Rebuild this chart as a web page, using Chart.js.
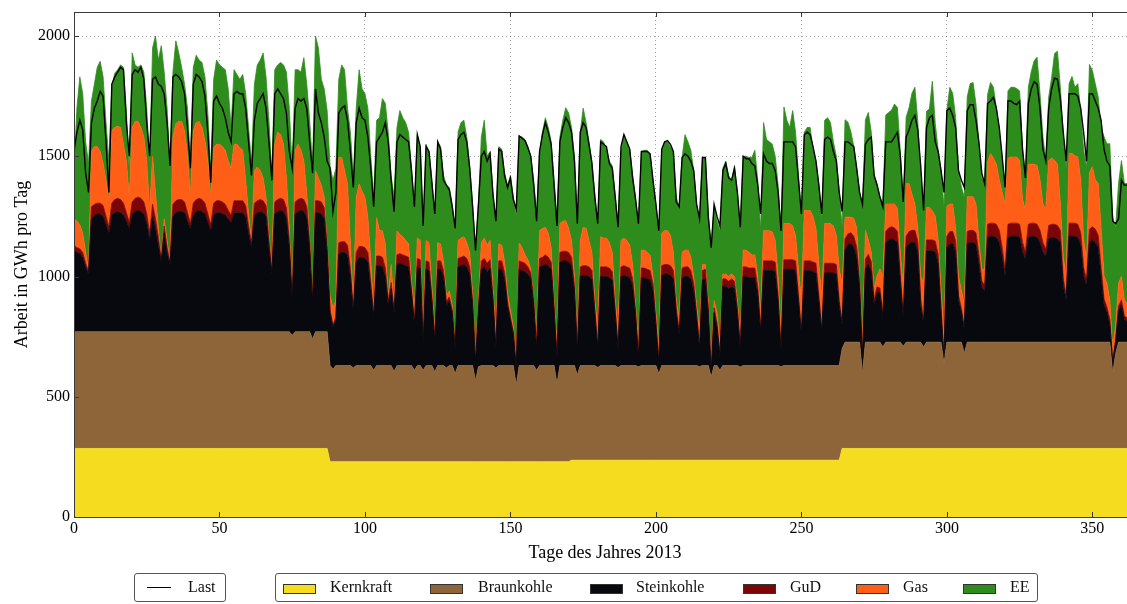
<!DOCTYPE html>
<html>
<head>
<meta charset="utf-8">
<title>Stromerzeugung und Last 2013</title>
<script src="https://cdn.jsdelivr.net/npm/chart.js@4/dist/chart.umd.min.js"></script>
<style>
  html, body { margin: 0; padding: 0; background: #fff; overflow: hidden; width: 1127px; height: 604px; }
  #wrap { position: relative; width: 1127px; height: 604px; overflow: hidden; }
  #c { position: absolute; left: 0; top: 0; }
  .box { position: absolute; top: 573px; height: 29px; border: 1px solid #555; border-radius: 3px; background: #fff; box-sizing: border-box; }
  .txt { position: absolute; top: 577px; font: 16px "Liberation Serif", serif; color: #111; line-height: 20px; white-space: nowrap; }
  .sw { position: absolute; top: 584px; width: 33px; height: 10px; border: 1px solid #333; box-sizing: border-box; }
  .ln { position: absolute; top: 587px; height: 0; border-top: 1.5px solid #000; }
</style>
</head>
<body>
<div id="wrap">
  <canvas id="c" width="1150" height="604"></canvas>
  <div class="box" style="left:134px;width:92px;"></div>
  <div class="ln" style="left:147px;width:24px;"></div>
  <div class="txt" style="left:188px;">Last</div>
  <div class="box" style="left:275px;width:763px;"></div>
  <div class="sw" style="left:283px;background:#f5dc1e;"></div>
  <div class="txt" style="left:330px;">Kernkraft</div>
  <div class="sw" style="left:430px;background:#8e6539;"></div>
  <div class="txt" style="left:478px;">Braunkohle</div>
  <div class="sw" style="left:590px;background:#08080f;"></div>
  <div class="txt" style="left:636px;">Steinkohle</div>
  <div class="sw" style="left:743px;background:#7d0505;"></div>
  <div class="txt" style="left:790px;">GuD</div>
  <div class="sw" style="left:856px;background:#ff5e17;"></div>
  <div class="txt" style="left:903px;">Gas</div>
  <div class="sw" style="left:963px;background:#2e8c1c;"></div>
  <div class="txt" style="left:1010px;">EE</div>
</div>
<script>
// Tägliche Arbeit in GWh je Erzeugungsart, Index = Tag des Jahres 2013 (0 = 1. Januar)
const kernkraft = [
  285,285,285,285,285,285,285,285,285,285,
  285,285,285,285,285,285,285,285,285,285,
  285,285,285,285,285,285,285,285,285,285,
  285,285,285,285,285,285,285,285,285,285,
  285,285,285,285,285,285,285,285,285,285,
  285,285,285,285,285,285,285,285,285,285,
  285,285,285,285,285,285,285,285,285,285,
  285,285,285,285,285,285,285,285,285,285,
  285,285,285,285,285,285,285,285,230,230,
  230,230,230,230,230,230,230,230,230,230,
  230,230,230,230,230,230,230,230,230,230,
  230,230,230,230,230,230,230,230,230,230,
  230,230,230,230,230,230,230,230,230,230,
  230,230,230,230,230,230,230,230,230,230,
  230,230,230,230,230,230,230,230,230,230,
  230,230,230,230,230,230,230,230,230,230,
  230,230,230,230,230,230,230,230,230,230,
  230,236,236,236,236,236,236,236,236,236,
  236,236,236,236,236,236,236,236,236,236,
  236,236,236,236,236,236,236,236,236,236,
  236,236,236,236,236,236,236,236,236,236,
  236,236,236,236,236,236,236,236,236,236,
  236,236,236,236,236,236,236,236,236,236,
  236,236,236,236,236,236,236,236,236,236,
  236,236,236,236,236,236,236,236,236,236,
  236,236,236,236,236,236,236,236,236,236,
  236,236,236,236,285,285,285,285,285,285,
  285,285,285,285,285,285,285,285,285,285,
  285,285,285,285,285,285,285,285,285,285,
  285,285,285,285,285,285,285,285,285,285,
  285,285,285,285,285,285,285,285,285,285,
  285,285,285,285,285,285,285,285,285,285,
  285,285,285,285,285,285,285,285,285,285,
  285,285,285,285,285,285,285,285,285,285,
  285,285,285,285,285,285,285,285,285,285,
  285,285,285,285,285,285,285,285,285,285,
  285,285,285,285,285
];
const braunkohle = [
  485,485,485,485,485,485,485,485,485,485,
  485,485,485,485,485,485,485,485,485,485,
  485,485,485,485,485,485,485,485,485,485,
  485,485,485,485,485,485,485,485,485,485,
  485,485,485,485,485,485,485,485,485,485,
  485,485,485,485,485,485,485,485,485,485,
  485,485,485,485,485,485,485,485,485,485,
  485,485,485,485,485,470,485,485,485,485,
  485,485,455,485,485,485,485,485,400,385,
  400,400,400,400,400,400,390,400,400,400,
  400,400,400,380,400,400,400,400,400,400,
  375,400,400,400,400,400,400,380,400,400,
  380,400,400,400,373,400,400,400,390,400,
  400,366,400,400,400,400,400,400,338,395,
  400,400,400,400,400,390,400,400,400,400,
  400,400,318,400,400,400,400,400,400,380,
  400,400,400,400,400,400,324,400,400,400,
  400,394,394,354,394,394,394,394,394,394,
  386,394,394,394,394,394,394,386,394,394,
  394,394,394,394,389,394,394,394,394,394,
  394,360,394,394,394,394,394,394,394,394,
  394,394,394,394,394,389,394,394,394,346,
  394,394,374,394,394,394,394,394,394,388,
  394,394,394,394,394,394,394,394,394,394,
  394,394,394,389,394,394,394,394,394,394,
  394,394,394,394,394,394,394,394,394,394,
  394,394,394,394,415,442,442,442,442,442,
  442,312,442,442,442,442,442,442,422,442,
  442,442,442,442,442,425,442,442,442,442,
  442,442,422,442,442,442,442,442,442,353,
  442,442,442,442,442,442,395,442,442,442,
  442,442,442,442,442,442,442,442,442,442,
  442,442,442,442,442,442,442,442,442,442,
  442,442,442,442,442,442,442,442,442,442,
  442,442,442,442,442,442,442,442,442,442,
  442,442,442,442,442,442,442,312,395,442,
  442,442,442,442,442
];
const steinkohle = [
  340,330,325,310,270,240,470,485,490,490,
  480,445,410,485,495,500,495,485,460,430,
  490,500,505,500,490,450,380,480,430,360,
  290,410,330,280,480,495,500,500,495,460,
  430,485,500,505,500,490,455,420,485,495,
  495,490,485,470,455,495,495,495,495,480,
  410,350,485,495,500,495,480,350,240,490,
  500,505,500,470,350,145,490,500,505,500,
  475,340,150,495,495,490,470,330,220,175,
  190,465,470,470,460,370,230,430,450,450,
  445,430,320,220,415,415,410,370,250,320,
  245,420,425,420,415,410,300,190,410,405,
  110,400,395,270,127,400,400,370,260,270,
  220,104,410,415,420,410,380,250,72,235,
  400,410,390,405,270,80,400,400,360,250,
  190,130,72,400,395,390,380,360,250,90,
  410,415,420,415,400,230,106,430,435,435,
  430,415,310,100,370,375,375,370,360,220,
  78,370,370,370,365,355,220,78,370,375,
  370,365,330,210,35,365,365,360,355,310,
  170,44,375,380,380,375,360,220,130,365,
  370,370,360,310,200,75,355,360,220,18,
  220,160,60,330,330,320,330,320,220,76,
  370,370,365,365,365,300,140,395,395,395,
  395,390,270,65,400,400,400,400,395,270,
  130,395,395,395,390,385,270,140,385,385,
  385,385,380,250,100,385,405,410,395,355,
  225,63,305,325,295,155,205,205,125,415,
  425,430,425,415,255,120,395,410,415,415,
  375,155,95,380,380,380,375,325,125,22,
  395,410,410,375,175,125,100,410,415,415,
  405,325,225,215,435,440,440,435,415,355,
  275,435,440,440,440,435,375,345,435,440,
  440,435,415,375,355,430,435,435,430,415,
  235,175,440,440,440,435,405,275,235,415,
  425,415,395,275,155,125,75,45,50,135,
  155,95,85,95,55
];
const gud = [
  20,20,20,20,15,10,50,45,45,45,
  45,35,25,50,55,55,55,50,35,25,
  50,55,55,55,50,40,30,50,40,30,
  10,30,20,8,50,50,50,50,45,35,
  20,50,50,50,50,45,35,25,50,50,
  50,50,45,35,30,50,50,50,50,45,
  30,15,50,50,50,50,45,30,10,50,
  50,50,50,45,30,8,50,50,50,50,
  45,30,8,50,50,50,45,25,10,8,
  10,45,45,45,40,30,10,40,45,45,
  45,40,25,10,40,40,40,35,20,25,
  10,40,40,40,40,40,15,10,35,35,
  10,35,35,15,10,35,35,25,15,15,
  10,8,35,35,35,35,30,15,8,10,
  35,35,35,35,15,8,35,35,25,15,
  10,10,5,35,35,35,30,25,15,8,
  35,35,40,35,30,15,8,40,40,40,
  40,35,20,8,40,40,40,40,35,15,
  8,40,40,40,40,35,15,8,40,40,
  40,40,30,15,5,40,40,40,40,30,
  15,5,40,40,40,40,35,15,10,40,
  40,40,35,30,15,8,40,40,20,5,
  20,15,5,30,30,30,30,30,20,8,
  40,40,40,40,40,25,8,40,40,40,
  40,40,20,8,40,40,40,40,40,20,
  8,40,40,40,40,40,20,8,40,40,
  40,40,40,20,10,45,45,45,45,40,
  25,8,40,40,40,20,25,20,10,45,
  50,50,50,45,25,10,45,50,50,50,
  45,25,10,45,45,45,45,40,20,5,
  45,50,50,45,20,15,10,50,50,50,
  50,40,30,20,55,55,55,55,50,40,
  25,55,55,55,55,55,40,30,55,55,
  55,55,50,40,30,55,55,55,55,50,
  30,20,55,55,55,55,50,35,25,55,
  55,55,50,35,25,20,20,5,8,15,
  20,15,15,15,10
];
const gas = [
  110,110,100,80,45,10,230,240,235,215,
  175,150,110,300,300,300,300,245,215,105,
  310,320,315,295,270,220,95,200,110,40,
  5,30,30,7,280,320,325,325,295,245,
  110,300,320,320,300,260,220,115,230,235,
  235,230,225,205,195,235,235,220,210,105,
  50,15,135,140,120,95,35,30,10,240,
  280,265,230,125,55,6,215,230,200,160,
  55,25,5,125,95,70,45,10,60,72,
  70,355,350,295,255,105,26,230,260,230,
  210,145,90,33,160,105,110,100,15,75,
  26,100,80,75,65,55,35,50,85,80,
  20,85,80,45,30,75,70,35,25,25,
  20,12,75,80,80,65,60,35,17,30,
  75,85,75,80,35,52,70,65,45,35,
  30,20,13,75,60,35,30,15,5,52,
  115,120,115,100,60,25,52,120,125,127,
  100,70,40,32,110,160,155,110,75,35,
  82,125,120,120,105,80,35,82,110,115,
  110,95,60,25,55,75,75,70,65,30,
  35,62,135,140,140,125,75,35,60,65,
  70,70,55,30,35,68,25,20,30,33,
  30,45,45,20,20,20,20,20,30,52,
  70,70,65,55,55,45,80,125,125,125,
  120,90,80,78,150,150,150,140,105,110,
  132,210,210,210,190,145,130,135,165,165,
  165,155,120,130,160,90,70,65,75,80,
  25,66,120,60,40,50,45,80,160,115,
  100,95,100,95,95,115,220,200,150,110,
  55,95,160,135,135,120,105,60,80,85,
  125,115,115,55,80,75,95,145,140,140,
  120,60,50,65,260,290,270,250,210,230,
  275,275,275,275,275,265,180,175,250,245,
  245,245,210,160,170,270,275,265,255,110,
  90,75,290,290,280,280,220,115,80,235,
  250,205,215,165,95,100,80,55,60,95,
  100,65,60,65,60
];
const ee = [
  210,470,615,580,460,440,210,260,330,375,
  360,240,165,180,225,235,260,320,210,100,
  310,235,225,260,270,220,185,450,650,700,
  885,610,550,385,270,345,285,225,195,190,
  150,265,280,255,270,265,200,110,285,350,
  330,330,335,300,170,310,290,285,315,360,
  360,320,360,425,460,520,500,470,390,310,
  280,300,330,440,495,526,335,310,325,430,
  455,485,550,560,540,440,450,555,540,530,
  550,325,385,420,315,465,524,370,475,425,
  430,455,435,457,405,470,550,585,685,370,
  444,430,515,495,490,465,470,430,430,380,
  450,400,380,440,480,420,405,360,460,430,
  420,471,450,480,485,440,360,370,443,400,
  440,490,370,370,400,470,405,400,370,450,
  560,540,612,445,460,480,470,470,500,500,
  320,400,455,440,440,500,520,360,420,470,
  480,470,500,490,450,495,440,410,380,440,
  428,405,400,370,340,360,440,428,370,420,
  410,400,370,450,498,410,415,425,420,400,
  450,470,340,370,370,370,420,430,455,395,
  480,450,445,440,420,456,445,445,350,483,
  390,380,470,440,470,420,390,460,450,445,
  390,390,395,405,435,400,332,450,380,370,
  365,350,380,415,485,430,400,480,430,390,
  346,325,345,345,280,280,330,318,430,440,
  420,350,330,320,235,405,395,355,300,250,
  350,554,460,530,500,470,385,300,300,370,
  380,390,415,420,420,345,275,315,420,485,
  445,410,305,400,410,540,385,375,490,538,
  400,485,460,460,440,430,445,415,470,475,
  415,400,380,360,280,295,295,235,205,130,
  50,280,290,290,285,290,205,140,320,385,
  430,450,360,280,200,265,335,445,470,485,
  500,455,290,320,285,305,290,375,385,450,
  400,400,360,420,580,580,650,545,405,415,
  480,485,500,480,450
];
// Tageslast in GWh
const last = [
  1520,1600,1650,1610,1430,1350,1640,1700,1730,1770,
  1750,1560,1350,1800,1830,1850,1870,1860,1640,1500,
  1840,1860,1850,1870,1820,1640,1500,1820,1830,1800,
  1790,1760,1640,1460,1830,1840,1830,1810,1760,1620,
  1450,1800,1840,1830,1810,1750,1600,1390,1730,1750,
  1720,1700,1660,1600,1560,1760,1770,1760,1760,1700,
  1560,1420,1650,1720,1740,1760,1700,1560,1400,1760,
  1780,1760,1740,1680,1520,1450,1700,1740,1730,1740,
  1700,1560,1430,1780,1680,1640,1580,1480,1450,1270,
  1350,1680,1700,1710,1650,1520,1370,1640,1700,1660,
  1650,1580,1450,1290,1560,1580,1600,1640,1560,1400,
  1270,1560,1590,1580,1570,1560,1440,1290,1590,1540,
  1210,1540,1520,1390,1260,1560,1530,1400,1380,1360,
  1290,1200,1570,1590,1600,1560,1450,1290,1108,1300,
  1500,1520,1480,1510,1340,1230,1530,1520,1420,1370,
  1410,1320,1280,1585,1575,1565,1535,1500,1380,1230,
  1520,1590,1640,1600,1550,1380,1210,1560,1620,1660,
  1640,1600,1480,1220,1600,1640,1620,1550,1470,1330,
  1220,1560,1550,1540,1470,1450,1330,1205,1540,1590,
  1560,1530,1410,1320,1220,1520,1520,1520,1510,1400,
  1300,1190,1530,1560,1565,1550,1520,1310,1290,1495,
  1510,1500,1480,1440,1300,1240,1495,1495,1250,1120,
  1300,1250,1210,1440,1470,1410,1400,1450,1350,1205,
  1500,1490,1490,1470,1460,1380,1260,1510,1480,1470,
  1470,1440,1350,1190,1560,1560,1560,1560,1540,1400,
  1260,1590,1600,1590,1540,1480,1380,1260,1570,1580,
  1570,1520,1480,1350,1270,1560,1560,1550,1540,1450,
  1350,1300,1550,1570,1580,1420,1380,1330,1290,1560,
  1560,1560,1580,1600,1500,1310,1580,1610,1650,1670,
  1610,1460,1275,1620,1660,1670,1560,1520,1440,1350,
  1690,1700,1670,1620,1440,1400,1370,1690,1715,1715,
  1650,1560,1430,1385,1720,1730,1745,1700,1620,1500,
  1370,1730,1730,1720,1715,1730,1530,1410,1720,1780,
  1810,1800,1700,1530,1480,1700,1780,1825,1820,1740,
  1600,1480,1760,1760,1760,1750,1700,1600,1480,1760,
  1760,1730,1700,1650,1530,1480,1460,1230,1220,1240,
  1400,1380,1380,1370,1280
];

const sourceNames = ['Kernkraft', 'Braunkohle', 'Steinkohle', 'GuD', 'Gas', 'EE'];
const sourceValues = [kernkraft, braunkohle, steinkohle, gud, gas, ee];
const sourceColors = ['#f5dc1e', '#8e6539', '#08080f', '#7d0505', '#ff5e17', '#2e8c1c'];
const xTicks = [0, 50, 100, 150, 200, 250, 300, 350];
const yTicks = [0, 500, 1000, 1500, 2000];

const toPoints = arr => arr.map((v, i) => ({ x: i, y: v }));

const datasets = sourceValues.map((arr, k) => ({
  label: sourceNames[k],
  data: toPoints(arr),
  backgroundColor: sourceColors[k],
  borderColor: sourceColors[k],
  borderWidth: 0.8,
  pointRadius: 0,
  tension: 0,
  fill: k === 0 ? 'origin' : '-1',
  stack: 'erzeugung',
  order: 1
}));
datasets.push({
  label: 'Last',
  data: toPoints(last),
  borderColor: '#000',
  backgroundColor: '#000',
  borderWidth: 1.4,
  pointRadius: 0,
  tension: 0,
  fill: false,
  stack: 'last',
  order: -1
});

// Achsenrahmen mit nach innen zeigenden Strichmarken
const framePlugin = {
  id: 'frame',
  afterDatasetsDraw(chart) {
    const { ctx, chartArea: a, scales: { x, y } } = chart;
    ctx.save();
    ctx.strokeStyle = '#3a3a3a';
    ctx.lineWidth = 1;
    ctx.strokeRect(Math.round(a.left) + 0.5, Math.round(a.top) + 0.5,
                   Math.round(a.right - a.left), Math.round(a.bottom - a.top));
    ctx.beginPath();
    xTicks.forEach(v => {
      const px = Math.round(x.getPixelForValue(v)) + 0.5;
      ctx.moveTo(px, a.bottom); ctx.lineTo(px, a.bottom - 5);
      ctx.moveTo(px, a.top); ctx.lineTo(px, a.top + 5);
    });
    yTicks.forEach(v => {
      const py = Math.round(y.getPixelForValue(v)) + 0.5;
      ctx.moveTo(a.left, py); ctx.lineTo(a.left + 5, py);
      ctx.moveTo(a.right, py); ctx.lineTo(a.right - 5, py);
    });
    ctx.stroke();
    ctx.restore();
  }
};

Chart.defaults.font.family = '"Liberation Serif", "Times New Roman", serif';
Chart.defaults.font.size = 16;
Chart.defaults.color = '#000';

new Chart(document.getElementById('c'), {
  type: 'line',
  data: { datasets },
  options: {
    responsive: false,
    animation: false,
    events: [],
    layout: { padding: { top: 12, left: 0, right: 14, bottom: 40 } },
    plugins: { legend: { display: false }, tooltip: { enabled: false } },
    scales: {
      x: {
        type: 'linear',
        min: 0,
        max: 365,
        afterBuildTicks: s => { s.ticks = xTicks.map(v => ({ value: v })); },
        afterFit: s => { s.height = 47; s.paddingLeft = 0; s.paddingRight = 0; },
        ticks: { padding: 2, maxRotation: 0, autoSkip: false, callback: v => String(v) },
        grid: { color: 'rgba(0,0,0,0.35)', lineWidth: 1, drawTicks: false },
        border: { display: false, dash: [1, 3] },
        title: { display: true, text: 'Tage des Jahres 2013', font: { size: 18 }, padding: { top: 0, bottom: 0 } }
      },
      y: {
        stacked: true,
        min: 0,
        max: 2100,
        afterBuildTicks: s => { s.ticks = yTicks.map(v => ({ value: v })); },
        afterFit: s => { s.width = 74; s.paddingTop = 0; s.paddingBottom = 0; },
        ticks: { padding: 4, callback: v => String(v) },
        grid: { color: 'rgba(0,0,0,0.35)', lineWidth: 1, drawTicks: false },
        border: { display: false, dash: [1, 3] },
        title: { display: true, text: 'Arbeit in GWh pro Tag', font: { size: 18 }, padding: { top: 11, bottom: 0 } }
      }
    }
  },
  plugins: [framePlugin]
});
</script>
</body>
</html>
